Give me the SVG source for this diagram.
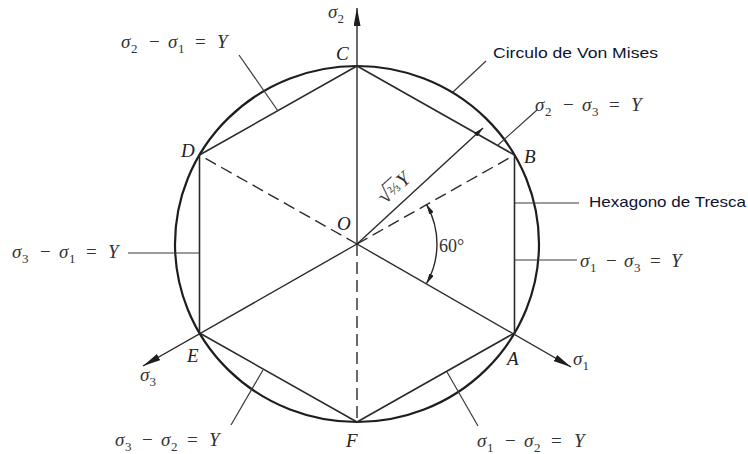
<svg xmlns="http://www.w3.org/2000/svg" width="748" height="454" viewBox="0 0 748 454">
<style>
.bg{fill:#fff}
.circ{fill:none;stroke:#1e1e1e;stroke-width:2.2}
.hex{fill:none;stroke:#2a2a2a;stroke-width:1.6;stroke-linejoin:round}
.ax{stroke:#2a2a2a;stroke-width:1.4;fill:none}
.dash{stroke:#2a2a2a;stroke-width:1.4;stroke-dasharray:12 6;fill:none}
.ld{stroke:#3a3a3a;stroke-width:1.2;fill:none}
.m{font-family:"Liberation Serif","DejaVu Serif",serif;font-size:19px;fill:#333}
.i{font-style:italic}
.s{font-size:13px}
.lt{font-family:"Liberation Serif","DejaVu Serif",serif;font-size:19px;font-style:italic;fill:#222}
.sans{font-family:"Liberation Sans","Open Sans",sans-serif;font-size:15px;fill:#0e1430}
</style>
<defs>
<marker id="ax" viewBox="0 0 18 7" refX="18" refY="3.5" markerWidth="18" markerHeight="7" markerUnits="userSpaceOnUse" orient="auto"><path d="M0,0 L18,3.5 L0,7 z" fill="#1e1e1e"/></marker>
<marker id="sm" viewBox="0 0 10 5" refX="10" refY="2.5" markerWidth="10" markerHeight="5" markerUnits="userSpaceOnUse" orient="auto-start-reverse"><path d="M0,0 L10,2.5 L0,5 z" fill="#1e1e1e"/></marker>
</defs>
<rect class="bg" x="0" y="0" width="748" height="454"/>

<g id="von-mises-circle">
<ellipse class="circ" cx="357" cy="244" rx="182" ry="178"/>
</g>

<g id="tresca-hexagon">
<polygon class="hex" points="514.5,333 514.5,155 357,66 199.5,155 199.5,333 357,422"/>
</g>

<g id="connectors">
<line class="ax" x1="357" y1="244" x2="357" y2="8" marker-end="url(#ax)"/>
<line class="ax" x1="357" y1="244" x2="571" y2="367" marker-end="url(#ax)"/>
<line class="ax" x1="357" y1="244" x2="143" y2="366" marker-end="url(#ax)"/>
<line class="dash" x1="357" y1="244" x2="514.5" y2="155"/>
<line class="dash" x1="357" y1="244" x2="199.5" y2="155"/>
<line class="dash" x1="357" y1="244" x2="357" y2="422"/>
<line class="ax" x1="357" y1="244" x2="483" y2="128" marker-end="url(#sm)"/>
<path class="ax" d="M426.6,204.6 A80,80 0 0 1 426.6,283.4" marker-start="url(#sm)" marker-end="url(#sm)"/>
<line class="ld" x1="239" y1="55" x2="278" y2="111"/>
<line class="ld" x1="453" y1="92" x2="486" y2="61"/>
<line class="ld" x1="537" y1="110" x2="498" y2="145"/>
<line class="ld" x1="514.5" y1="203" x2="579" y2="203"/>
<line class="ld" x1="514.5" y1="260" x2="577" y2="260"/>
<line class="ld" x1="128" y1="253" x2="199.5" y2="253"/>
<line class="ld" x1="231" y1="425" x2="263" y2="370"/>
<line class="ld" x1="478" y1="426" x2="447" y2="372"/>
</g>

<g id="vertex-labels">
<text class="lt" x="336" y="60">C</text>
<text class="lt" x="181" y="157">D</text>
<text class="lt" x="524" y="163">B</text>
<text class="lt" x="187" y="362">E</text>
<text class="lt" x="507" y="365">A</text>
<text class="lt" x="346" y="447">F</text>
<text class="lt" x="337" y="230">O</text>
</g>

<g id="axis-labels">
<text class="m" x="328" y="18"><tspan class="i">σ</tspan><tspan class="s" dy="5">2</tspan></text>
<text class="m" x="573" y="365"><tspan class="i">σ</tspan><tspan class="s" dy="5">1</tspan></text>
<text class="m" x="140" y="381"><tspan class="i">σ</tspan><tspan class="s" dy="5">3</tspan></text>
</g>

<g id="eq-s2-s1">
<text class="m" y="48"><tspan class="i" x="121">σ</tspan><tspan class="s" x="131" dy="5">2</tspan><tspan x="149" dy="-5">−</tspan><tspan class="i" x="168">σ</tspan><tspan class="s" x="178" dy="5">1</tspan><tspan x="195" dy="-5">=</tspan><tspan class="i" x="217">Y</tspan></text>
</g>
<g id="eq-s2-s3">
<text class="m" y="111"><tspan class="i" x="535">σ</tspan><tspan class="s" x="545" dy="5">2</tspan><tspan x="563" dy="-5">−</tspan><tspan class="i" x="582">σ</tspan><tspan class="s" x="592" dy="5">3</tspan><tspan x="609" dy="-5">=</tspan><tspan class="i" x="631">Y</tspan></text>
</g>
<g id="eq-s3-s1">
<text class="m" y="258"><tspan class="i" x="12">σ</tspan><tspan class="s" x="22" dy="5">3</tspan><tspan x="40" dy="-5">−</tspan><tspan class="i" x="59">σ</tspan><tspan class="s" x="69" dy="5">1</tspan><tspan x="86" dy="-5">=</tspan><tspan class="i" x="108">Y</tspan></text>
</g>
<g id="eq-s1-s3">
<text class="m" y="267"><tspan class="i" x="580">σ</tspan><tspan class="s" x="590" dy="5">1</tspan><tspan x="606" dy="-5">−</tspan><tspan class="i" x="624">σ</tspan><tspan class="s" x="634" dy="5">3</tspan><tspan x="650" dy="-5">=</tspan><tspan class="i" x="671">Y</tspan></text>
</g>
<g id="eq-s3-s2">
<text class="m" y="446"><tspan class="i" x="115">σ</tspan><tspan class="s" x="125" dy="5">3</tspan><tspan x="142" dy="-5">−</tspan><tspan class="i" x="161">σ</tspan><tspan class="s" x="171" dy="5">2</tspan><tspan x="187" dy="-5">=</tspan><tspan class="i" x="209">Y</tspan></text>
</g>
<g id="eq-s1-s2">
<text class="m" y="447"><tspan class="i" x="477">σ</tspan><tspan class="s" x="487" dy="5">1</tspan><tspan x="505" dy="-5">−</tspan><tspan class="i" x="524">σ</tspan><tspan class="s" x="534" dy="5">2</tspan><tspan x="551" dy="-5">=</tspan><tspan class="i" x="574">Y</tspan></text>
</g>

<g id="radius-label" transform="translate(385,205) rotate(-42.6)">
<text class="m" x="0" y="0" style="font-size:22px">√<tspan x="12" y="-1" style="font-size:15px">⅔</tspan><tspan class="i" x="25" y="0" style="font-size:20px">Y</tspan></text>
<line x1="11.5" y1="-16.5" x2="24" y2="-16.5" stroke="#333" stroke-width="1.1"/>
</g>

<g id="angle-label">
<text class="m" x="439" y="252" style="font-size:18px">60°</text>
</g>

<g id="circle-callout">
<text class="sans" x="493" y="58" textLength="165" lengthAdjust="spacingAndGlyphs">Circulo de Von Mises</text>
</g>
<g id="hexagon-callout">
<text class="sans" x="589" y="207" textLength="157" lengthAdjust="spacingAndGlyphs">Hexagono de Tresca</text>
</g>
</svg>
